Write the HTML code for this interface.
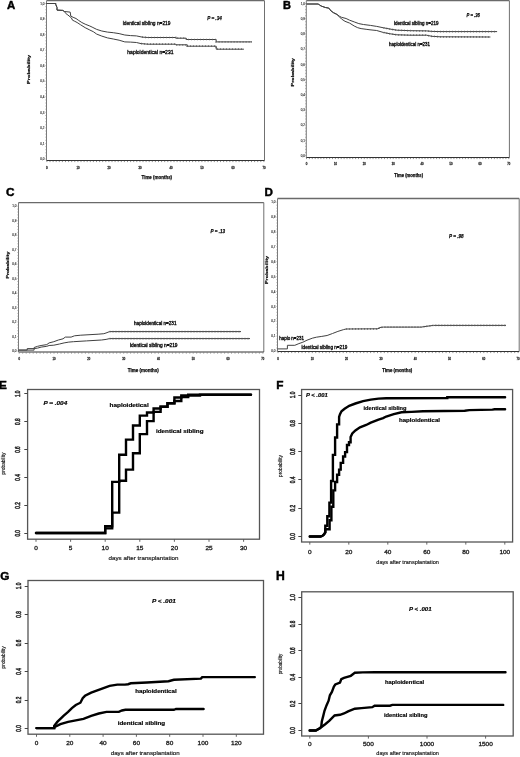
<!DOCTYPE html>
<html><head><meta charset="utf-8"><style>
html,body{margin:0;padding:0;background:#fff;width:520px;height:757px;overflow:hidden}
svg text{font-family:"Liberation Sans", sans-serif}
</style></head><body>
<svg width="520" height="757" viewBox="0 0 520 757" style="display:block;will-change:transform;filter:blur(0.3px)">
<rect width="520" height="757" fill="#fff"/>
<g font-family='"Liberation Sans", sans-serif'>
<text x="6.90" y="9.00" font-size="11.4" text-anchor="start" stroke="#000" stroke-width="0.45" font-weight="bold" fill="#000">A</text>
<text x="282.90" y="9.00" font-size="11.0" text-anchor="start" stroke="#000" stroke-width="0.45" font-weight="bold" fill="#000">B</text>
<text x="5.90" y="195.60" font-size="11.8" text-anchor="start" stroke="#000" stroke-width="0.45" font-weight="bold" fill="#000">C</text>
<text x="264.40" y="195.60" font-size="11.6" text-anchor="start" stroke="#000" stroke-width="0.45" font-weight="bold" fill="#000">D</text>
<text x="-0.90" y="388.70" font-size="11.8" text-anchor="start" stroke="#000" stroke-width="0.45" font-weight="bold" fill="#000">E</text>
<text x="276.20" y="388.70" font-size="11.8" text-anchor="start" stroke="#000" stroke-width="0.45" font-weight="bold" fill="#000">F</text>
<text x="0.20" y="579.60" font-size="11.8" text-anchor="start" stroke="#000" stroke-width="0.45" font-weight="bold" fill="#000">G</text>
<text x="276.00" y="579.90" font-size="12.2" text-anchor="start" stroke="#000" stroke-width="0.45" font-weight="bold" fill="#000">H</text>
<line x1="46.50" y1="0.70" x2="264.50" y2="0.70" stroke="#6a6a6a" stroke-width="1.3"/>
<line x1="264.50" y1="0.70" x2="264.50" y2="160.50" stroke="#707070" stroke-width="1.0"/>
<line x1="46.50" y1="0.70" x2="46.50" y2="160.50" stroke="#7a7a7a" stroke-width="1.0"/>
<line x1="46.50" y1="160.50" x2="264.50" y2="160.50" stroke="#333" stroke-width="1.0"/>
<path d="M46.9 161.0V162.1M50.0 161.0V162.1M53.1 161.0V162.1M56.2 161.0V162.1M59.3 161.0V162.1M62.4 161.0V162.1M65.5 161.0V162.1M68.6 161.0V162.1M71.7 161.0V162.1M74.8 161.0V162.1M77.9 161.0V162.1M81.0 161.0V162.1M84.1 161.0V162.1M87.2 161.0V162.1M90.3 161.0V162.1M93.4 161.0V162.1M96.5 161.0V162.1M99.6 161.0V162.1M102.7 161.0V162.1M105.8 161.0V162.1M108.9 161.0V162.1M112.0 161.0V162.1M115.1 161.0V162.1M118.2 161.0V162.1M121.3 161.0V162.1M124.4 161.0V162.1M127.5 161.0V162.1M130.6 161.0V162.1M133.7 161.0V162.1M136.8 161.0V162.1M139.9 161.0V162.1M143.0 161.0V162.1M146.1 161.0V162.1M149.2 161.0V162.1M152.3 161.0V162.1M155.4 161.0V162.1M158.5 161.0V162.1M161.6 161.0V162.1M164.7 161.0V162.1M167.8 161.0V162.1M170.9 161.0V162.1M174.0 161.0V162.1M177.1 161.0V162.1M180.2 161.0V162.1M183.3 161.0V162.1M186.4 161.0V162.1M189.5 161.0V162.1M192.6 161.0V162.1M195.7 161.0V162.1M198.8 161.0V162.1M201.9 161.0V162.1M205.0 161.0V162.1M208.1 161.0V162.1M211.2 161.0V162.1M214.3 161.0V162.1M217.4 161.0V162.1M220.5 161.0V162.1M223.6 161.0V162.1M226.7 161.0V162.1M229.8 161.0V162.1M232.9 161.0V162.1M236.0 161.0V162.1M239.1 161.0V162.1M242.2 161.0V162.1M245.3 161.0V162.1M248.4 161.0V162.1M251.5 161.0V162.1M254.6 161.0V162.1M257.7 161.0V162.1M260.8 161.0V162.1M263.9 161.0V162.1" stroke="#666" stroke-width="0.7" fill="none"/>
<path d="M45.3 159.0H46.5M45.3 155.9H46.5M45.3 152.8H46.5M45.3 149.7H46.5M45.3 146.6H46.5M45.3 143.4H46.5M45.3 140.3H46.5M45.3 137.2H46.5M45.3 134.1H46.5M45.3 131.0H46.5M45.3 127.9H46.5M45.3 124.8H46.5M45.3 121.7H46.5M45.3 118.6H46.5M45.3 115.5H46.5M45.3 112.3H46.5M45.3 109.2H46.5M45.3 106.1H46.5M45.3 103.0H46.5M45.3 99.9H46.5M45.3 96.8H46.5M45.3 93.7H46.5M45.3 90.6H46.5M45.3 87.5H46.5M45.3 84.4H46.5M45.3 81.2H46.5M45.3 78.1H46.5M45.3 75.0H46.5M45.3 71.9H46.5M45.3 68.8H46.5M45.3 65.7H46.5M45.3 62.6H46.5M45.3 59.5H46.5M45.3 56.4H46.5M45.3 53.3H46.5M45.3 50.2H46.5M45.3 47.0H46.5M45.3 43.9H46.5M45.3 40.8H46.5M45.3 37.7H46.5M45.3 34.6H46.5M45.3 31.5H46.5M45.3 28.4H46.5M45.3 25.3H46.5M45.3 22.2H46.5M45.3 19.1H46.5M45.3 15.9H46.5M45.3 12.8H46.5M45.3 9.7H46.5M45.3 6.6H46.5M45.3 3.5H46.5" stroke="#888" stroke-width="0.6" fill="none"/>
<text x="44.50" y="160.20" font-size="3.4" text-anchor="end" stroke="#333" stroke-width="0.15" textLength="4.20" lengthAdjust="spacingAndGlyphs" fill="#333">0,0</text>
<text x="44.50" y="144.65" font-size="3.4" text-anchor="end" stroke="#333" stroke-width="0.15" textLength="4.20" lengthAdjust="spacingAndGlyphs" fill="#333">0,1</text>
<text x="44.50" y="129.10" font-size="3.4" text-anchor="end" stroke="#333" stroke-width="0.15" textLength="4.20" lengthAdjust="spacingAndGlyphs" fill="#333">0,2</text>
<text x="44.50" y="113.55" font-size="3.4" text-anchor="end" stroke="#333" stroke-width="0.15" textLength="4.20" lengthAdjust="spacingAndGlyphs" fill="#333">0,3</text>
<text x="44.50" y="98.00" font-size="3.4" text-anchor="end" stroke="#333" stroke-width="0.15" textLength="4.20" lengthAdjust="spacingAndGlyphs" fill="#333">0,4</text>
<text x="44.50" y="82.45" font-size="3.4" text-anchor="end" stroke="#333" stroke-width="0.15" textLength="4.20" lengthAdjust="spacingAndGlyphs" fill="#333">0,5</text>
<text x="44.50" y="66.90" font-size="3.4" text-anchor="end" stroke="#333" stroke-width="0.15" textLength="4.20" lengthAdjust="spacingAndGlyphs" fill="#333">0,6</text>
<text x="44.50" y="51.35" font-size="3.4" text-anchor="end" stroke="#333" stroke-width="0.15" textLength="4.20" lengthAdjust="spacingAndGlyphs" fill="#333">0,7</text>
<text x="44.50" y="35.80" font-size="3.4" text-anchor="end" stroke="#333" stroke-width="0.15" textLength="4.20" lengthAdjust="spacingAndGlyphs" fill="#333">0,8</text>
<text x="44.50" y="20.25" font-size="3.4" text-anchor="end" stroke="#333" stroke-width="0.15" textLength="4.20" lengthAdjust="spacingAndGlyphs" fill="#333">0,9</text>
<text x="44.50" y="4.70" font-size="3.4" text-anchor="end" stroke="#333" stroke-width="0.15" textLength="4.20" lengthAdjust="spacingAndGlyphs" fill="#333">1,0</text>
<text x="46.90" y="168.60" font-size="3.6" text-anchor="middle" stroke="#333" stroke-width="0.35" textLength="1.60" lengthAdjust="spacingAndGlyphs" fill="#333">0</text>
<text x="77.90" y="168.60" font-size="3.6" text-anchor="middle" stroke="#333" stroke-width="0.35" textLength="3.00" lengthAdjust="spacingAndGlyphs" fill="#333">10</text>
<text x="108.90" y="168.60" font-size="3.6" text-anchor="middle" stroke="#333" stroke-width="0.35" textLength="3.00" lengthAdjust="spacingAndGlyphs" fill="#333">20</text>
<text x="139.90" y="168.60" font-size="3.6" text-anchor="middle" stroke="#333" stroke-width="0.35" textLength="3.00" lengthAdjust="spacingAndGlyphs" fill="#333">30</text>
<text x="170.90" y="168.60" font-size="3.6" text-anchor="middle" stroke="#333" stroke-width="0.35" textLength="3.00" lengthAdjust="spacingAndGlyphs" fill="#333">40</text>
<text x="201.90" y="168.60" font-size="3.6" text-anchor="middle" stroke="#333" stroke-width="0.35" textLength="3.00" lengthAdjust="spacingAndGlyphs" fill="#333">50</text>
<text x="232.90" y="168.60" font-size="3.6" text-anchor="middle" stroke="#333" stroke-width="0.35" textLength="3.00" lengthAdjust="spacingAndGlyphs" fill="#333">60</text>
<text x="263.90" y="168.60" font-size="3.6" text-anchor="middle" stroke="#333" stroke-width="0.35" textLength="3.00" lengthAdjust="spacingAndGlyphs" fill="#333">70</text>
<polyline points="46.5,3.5 55.8,3.5 55.8,4.6 57.0,7.5 57.0,10.1 62.7,10.4 64.5,11.5 70.2,12.1 70.8,16.1 73.1,17.3 76.0,18.5 78.3,20.2 81.8,22.5 85.2,24.2 89.8,26.0 92.1,27.1 96.7,29.4 101.8,31.0 107.5,32.1 113.3,32.7 119.1,33.6 124.8,35.0 130.6,35.6 136.4,35.9 142.1,37.1 147.9,37.5 175.8,37.5 175.8,38.2 186.2,38.2 186.2,39.5 216.2,39.5 216.2,41.9 252.0,41.9" fill="none" stroke="#404040" stroke-width="1.0" stroke-linejoin="miter"/>
<polyline points="142.1,37.1 147.9,37.5 175.8,37.5 175.8,38.2 186.2,38.2 186.2,39.5 216.2,39.5 216.2,41.9 252.0,41.9" fill="none" stroke="#5a5a5a" stroke-width="1.7" stroke-dasharray="0.8 2.2"/>
<polyline points="46.5,3.5 55.8,3.5 55.8,4.6 57.0,7.5 57.0,10.1 62.7,10.4 64.5,11.5 65.6,13.3 67.9,15.0 71.4,17.9 72.5,20.2 74.8,21.3 77.1,22.5 80.6,24.8 85.2,27.7 89.8,30.0 93.3,31.7 96.7,34.1 101.8,36.1 107.5,37.9 113.3,39.0 119.1,40.2 124.8,41.9 130.6,42.1 136.4,42.5 141.0,43.6 147.9,44.2 175.8,44.2 175.8,44.8 187.3,44.8 187.3,46.2 216.2,46.2 216.2,49.2 243.9,49.2" fill="none" stroke="#404040" stroke-width="1.0" stroke-linejoin="miter"/>
<polyline points="141.0,43.6 147.9,44.2 175.8,44.2 175.8,44.8 187.3,44.8 187.3,46.2 216.2,46.2 216.2,49.2 243.9,49.2" fill="none" stroke="#5a5a5a" stroke-width="1.7" stroke-dasharray="0.8 2.2"/>
<text x="122.70" y="25.40" font-size="5.6" text-anchor="start" stroke="#111" stroke-width="0.35" textLength="47.80" lengthAdjust="spacingAndGlyphs">identical sibling n=219</text>
<text x="127.30" y="53.80" font-size="5.6" text-anchor="start" stroke="#111" stroke-width="0.35" textLength="46.20" lengthAdjust="spacingAndGlyphs">haploidentical n=231</text>
<text x="207.20" y="20.10" font-size="6.0" text-anchor="start" stroke="#111" stroke-width="0.25" font-weight="bold" font-style="italic" textLength="14.60" lengthAdjust="spacingAndGlyphs">P = .34</text>
<text x="30.00" y="69.40" font-size="4.3" text-anchor="middle" stroke="#111" stroke-width="0.2" font-weight="bold" textLength="29.00" lengthAdjust="spacingAndGlyphs" transform="rotate(-90 30.00 69.40)">Probability</text>
<text x="141.50" y="178.70" font-size="5.2" text-anchor="start" stroke="#111" stroke-width="0.25" font-weight="bold" textLength="30.60" lengthAdjust="spacingAndGlyphs">Time (months)</text>
<line x1="306.30" y1="0.70" x2="509.40" y2="0.70" stroke="#6a6a6a" stroke-width="1.3"/>
<line x1="509.40" y1="0.70" x2="509.40" y2="157.50" stroke="#707070" stroke-width="1.0"/>
<line x1="306.30" y1="0.70" x2="306.30" y2="157.50" stroke="#7a7a7a" stroke-width="1.0"/>
<line x1="306.30" y1="157.50" x2="509.40" y2="157.50" stroke="#333" stroke-width="1.0"/>
<path d="M306.5 158.0V159.1M309.4 158.0V159.1M312.3 158.0V159.1M315.2 158.0V159.1M318.1 158.0V159.1M320.9 158.0V159.1M323.8 158.0V159.1M326.7 158.0V159.1M329.6 158.0V159.1M332.5 158.0V159.1M335.4 158.0V159.1M338.3 158.0V159.1M341.2 158.0V159.1M344.1 158.0V159.1M347.0 158.0V159.1M349.9 158.0V159.1M352.7 158.0V159.1M355.6 158.0V159.1M358.5 158.0V159.1M361.4 158.0V159.1M364.3 158.0V159.1M367.2 158.0V159.1M370.1 158.0V159.1M373.0 158.0V159.1M375.9 158.0V159.1M378.8 158.0V159.1M381.6 158.0V159.1M384.5 158.0V159.1M387.4 158.0V159.1M390.3 158.0V159.1M393.2 158.0V159.1M396.1 158.0V159.1M399.0 158.0V159.1M401.9 158.0V159.1M404.8 158.0V159.1M407.6 158.0V159.1M410.5 158.0V159.1M413.4 158.0V159.1M416.3 158.0V159.1M419.2 158.0V159.1M422.1 158.0V159.1M425.0 158.0V159.1M427.9 158.0V159.1M430.8 158.0V159.1M433.7 158.0V159.1M436.6 158.0V159.1M439.4 158.0V159.1M442.3 158.0V159.1M445.2 158.0V159.1M448.1 158.0V159.1M451.0 158.0V159.1M453.9 158.0V159.1M456.8 158.0V159.1M459.7 158.0V159.1M462.6 158.0V159.1M465.4 158.0V159.1M468.3 158.0V159.1M471.2 158.0V159.1M474.1 158.0V159.1M477.0 158.0V159.1M479.9 158.0V159.1M482.8 158.0V159.1M485.7 158.0V159.1M488.6 158.0V159.1M491.5 158.0V159.1M494.4 158.0V159.1M497.2 158.0V159.1M500.1 158.0V159.1M503.0 158.0V159.1M505.9 158.0V159.1M508.8 158.0V159.1" stroke="#666" stroke-width="0.7" fill="none"/>
<path d="M305.1 155.5H306.3M305.1 152.5H306.3M305.1 149.4H306.3M305.1 146.4H306.3M305.1 143.3H306.3M305.1 140.3H306.3M305.1 137.3H306.3M305.1 134.2H306.3M305.1 131.2H306.3M305.1 128.1H306.3M305.1 125.1H306.3M305.1 122.1H306.3M305.1 119.0H306.3M305.1 116.0H306.3M305.1 112.9H306.3M305.1 109.9H306.3M305.1 106.9H306.3M305.1 103.8H306.3M305.1 100.8H306.3M305.1 97.7H306.3M305.1 94.7H306.3M305.1 91.7H306.3M305.1 88.6H306.3M305.1 85.6H306.3M305.1 82.5H306.3M305.1 79.5H306.3M305.1 76.5H306.3M305.1 73.4H306.3M305.1 70.4H306.3M305.1 67.3H306.3M305.1 64.3H306.3M305.1 61.3H306.3M305.1 58.2H306.3M305.1 55.2H306.3M305.1 52.1H306.3M305.1 49.1H306.3M305.1 46.1H306.3M305.1 43.0H306.3M305.1 40.0H306.3M305.1 36.9H306.3M305.1 33.9H306.3M305.1 30.9H306.3M305.1 27.8H306.3M305.1 24.8H306.3M305.1 21.7H306.3M305.1 18.7H306.3M305.1 15.7H306.3M305.1 12.6H306.3M305.1 9.6H306.3M305.1 6.5H306.3M305.1 3.5H306.3" stroke="#888" stroke-width="0.6" fill="none"/>
<text x="305.00" y="156.70" font-size="3.4" text-anchor="end" stroke="#333" stroke-width="0.15" textLength="4.20" lengthAdjust="spacingAndGlyphs" fill="#333">0,0</text>
<text x="305.00" y="141.50" font-size="3.4" text-anchor="end" stroke="#333" stroke-width="0.15" textLength="4.20" lengthAdjust="spacingAndGlyphs" fill="#333">0,1</text>
<text x="305.00" y="126.30" font-size="3.4" text-anchor="end" stroke="#333" stroke-width="0.15" textLength="4.20" lengthAdjust="spacingAndGlyphs" fill="#333">0,2</text>
<text x="305.00" y="111.10" font-size="3.4" text-anchor="end" stroke="#333" stroke-width="0.15" textLength="4.20" lengthAdjust="spacingAndGlyphs" fill="#333">0,3</text>
<text x="305.00" y="95.90" font-size="3.4" text-anchor="end" stroke="#333" stroke-width="0.15" textLength="4.20" lengthAdjust="spacingAndGlyphs" fill="#333">0,4</text>
<text x="305.00" y="80.70" font-size="3.4" text-anchor="end" stroke="#333" stroke-width="0.15" textLength="4.20" lengthAdjust="spacingAndGlyphs" fill="#333">0,5</text>
<text x="305.00" y="65.50" font-size="3.4" text-anchor="end" stroke="#333" stroke-width="0.15" textLength="4.20" lengthAdjust="spacingAndGlyphs" fill="#333">0,6</text>
<text x="305.00" y="50.30" font-size="3.4" text-anchor="end" stroke="#333" stroke-width="0.15" textLength="4.20" lengthAdjust="spacingAndGlyphs" fill="#333">0,7</text>
<text x="305.00" y="35.10" font-size="3.4" text-anchor="end" stroke="#333" stroke-width="0.15" textLength="4.20" lengthAdjust="spacingAndGlyphs" fill="#333">0,8</text>
<text x="305.00" y="19.90" font-size="3.4" text-anchor="end" stroke="#333" stroke-width="0.15" textLength="4.20" lengthAdjust="spacingAndGlyphs" fill="#333">0,9</text>
<text x="305.00" y="4.70" font-size="3.4" text-anchor="end" stroke="#333" stroke-width="0.15" textLength="4.20" lengthAdjust="spacingAndGlyphs" fill="#333">1,0</text>
<text x="306.50" y="165.20" font-size="3.6" text-anchor="middle" stroke="#333" stroke-width="0.35" textLength="1.60" lengthAdjust="spacingAndGlyphs" fill="#333">0</text>
<text x="335.40" y="165.20" font-size="3.6" text-anchor="middle" stroke="#333" stroke-width="0.35" textLength="3.00" lengthAdjust="spacingAndGlyphs" fill="#333">10</text>
<text x="364.30" y="165.20" font-size="3.6" text-anchor="middle" stroke="#333" stroke-width="0.35" textLength="3.00" lengthAdjust="spacingAndGlyphs" fill="#333">20</text>
<text x="393.20" y="165.20" font-size="3.6" text-anchor="middle" stroke="#333" stroke-width="0.35" textLength="3.00" lengthAdjust="spacingAndGlyphs" fill="#333">30</text>
<text x="422.10" y="165.20" font-size="3.6" text-anchor="middle" stroke="#333" stroke-width="0.35" textLength="3.00" lengthAdjust="spacingAndGlyphs" fill="#333">40</text>
<text x="451.00" y="165.20" font-size="3.6" text-anchor="middle" stroke="#333" stroke-width="0.35" textLength="3.00" lengthAdjust="spacingAndGlyphs" fill="#333">50</text>
<text x="479.90" y="165.20" font-size="3.6" text-anchor="middle" stroke="#333" stroke-width="0.35" textLength="3.00" lengthAdjust="spacingAndGlyphs" fill="#333">60</text>
<text x="508.80" y="165.20" font-size="3.6" text-anchor="middle" stroke="#333" stroke-width="0.35" textLength="3.00" lengthAdjust="spacingAndGlyphs" fill="#333">70</text>
<polyline points="306.5,4.0 318.5,4.0 319.6,5.2 321.9,6.3 325.4,7.5 328.8,8.1 331.1,11.0 333.5,12.7 336.9,14.4 339.2,16.1 341.5,17.3 346.1,18.5 349.6,20.2 354.2,21.9 358.8,23.6 363.4,24.5 370.4,25.4 376.7,26.4 383.5,27.8 390.2,29.1 396.9,30.2 410.4,30.7 426.5,30.9 431.9,31.4 440.0,31.6 497.1,31.6" fill="none" stroke="#404040" stroke-width="1.0" stroke-linejoin="miter"/>
<polyline points="383.5,27.8 390.2,29.1 396.9,30.2 410.4,30.7 426.5,30.9 431.9,31.4 440.0,31.6 497.1,31.6" fill="none" stroke="#5a5a5a" stroke-width="1.7" stroke-dasharray="0.8 2.2"/>
<polyline points="306.5,4.0 318.5,4.0 319.6,5.2 321.9,6.3 325.4,7.5 328.8,8.1 331.1,11.0 333.5,12.7 336.9,14.4 339.2,16.6 341.5,19.0 345.0,21.3 349.6,23.1 354.2,26.0 357.7,27.7 361.1,28.6 366.9,29.4 370.0,29.8 376.7,30.5 383.5,32.5 390.2,33.8 396.9,34.8 410.4,35.2 426.5,35.2 431.9,36.3 440.0,36.8 490.4,37.0" fill="none" stroke="#404040" stroke-width="1.0" stroke-linejoin="miter"/>
<polyline points="383.5,32.5 390.2,33.8 396.9,34.8 410.4,35.2 426.5,35.2 431.9,36.3 440.0,36.8 490.4,37.0" fill="none" stroke="#5a5a5a" stroke-width="1.7" stroke-dasharray="0.8 2.2"/>
<text x="394.00" y="25.00" font-size="5.0" text-anchor="start" stroke="#111" stroke-width="0.35" textLength="44.50" lengthAdjust="spacingAndGlyphs">identical sibling n=219</text>
<text x="389.00" y="46.40" font-size="5.0" text-anchor="start" stroke="#111" stroke-width="0.35" textLength="41.00" lengthAdjust="spacingAndGlyphs">haploidentical n=231</text>
<text x="466.60" y="17.30" font-size="5.6" text-anchor="start" stroke="#111" stroke-width="0.25" font-weight="bold" font-style="italic" textLength="13.30" lengthAdjust="spacingAndGlyphs">P = .36</text>
<text x="294.00" y="72.30" font-size="4.0" text-anchor="middle" stroke="#111" stroke-width="0.2" font-weight="bold" textLength="28.40" lengthAdjust="spacingAndGlyphs" transform="rotate(-90 294.00 72.30)">Probability</text>
<text x="394.30" y="176.80" font-size="4.8" text-anchor="start" stroke="#111" stroke-width="0.25" font-weight="bold" textLength="28.80" lengthAdjust="spacingAndGlyphs">Time (months)</text>
<line x1="18.50" y1="202.60" x2="263.80" y2="202.60" stroke="#6a6a6a" stroke-width="1.3"/>
<line x1="263.80" y1="202.60" x2="263.80" y2="352.00" stroke="#707070" stroke-width="1.0"/>
<line x1="18.50" y1="202.60" x2="18.50" y2="352.00" stroke="#7a7a7a" stroke-width="1.0"/>
<line x1="18.50" y1="352.00" x2="263.80" y2="352.00" stroke="#333" stroke-width="1.0"/>
<path d="M19.2 352.5V353.6M22.7 352.5V353.6M26.2 352.5V353.6M29.7 352.5V353.6M33.2 352.5V353.6M36.6 352.5V353.6M40.1 352.5V353.6M43.6 352.5V353.6M47.1 352.5V353.6M50.6 352.5V353.6M54.0 352.5V353.6M57.5 352.5V353.6M61.0 352.5V353.6M64.5 352.5V353.6M68.0 352.5V353.6M71.5 352.5V353.6M74.9 352.5V353.6M78.4 352.5V353.6M81.9 352.5V353.6M85.4 352.5V353.6M88.8 352.5V353.6M92.3 352.5V353.6M95.8 352.5V353.6M99.3 352.5V353.6M102.8 352.5V353.6M106.2 352.5V353.6M109.7 352.5V353.6M113.2 352.5V353.6M116.7 352.5V353.6M120.2 352.5V353.6M123.7 352.5V353.6M127.1 352.5V353.6M130.6 352.5V353.6M134.1 352.5V353.6M137.6 352.5V353.6M141.1 352.5V353.6M144.5 352.5V353.6M148.0 352.5V353.6M151.5 352.5V353.6M155.0 352.5V353.6M158.4 352.5V353.6M161.9 352.5V353.6M165.4 352.5V353.6M168.9 352.5V353.6M172.4 352.5V353.6M175.8 352.5V353.6M179.3 352.5V353.6M182.8 352.5V353.6M186.3 352.5V353.6M189.8 352.5V353.6M193.2 352.5V353.6M196.7 352.5V353.6M200.2 352.5V353.6M203.7 352.5V353.6M207.2 352.5V353.6M210.6 352.5V353.6M214.1 352.5V353.6M217.6 352.5V353.6M221.1 352.5V353.6M224.6 352.5V353.6M228.1 352.5V353.6M231.5 352.5V353.6M235.0 352.5V353.6M238.5 352.5V353.6M242.0 352.5V353.6M245.4 352.5V353.6M248.9 352.5V353.6M252.4 352.5V353.6M255.9 352.5V353.6M259.4 352.5V353.6M262.9 352.5V353.6" stroke="#666" stroke-width="0.7" fill="none"/>
<path d="M17.3 351.0H18.5M17.3 348.1H18.5M17.3 345.2H18.5M17.3 342.3H18.5M17.3 339.4H18.5M17.3 336.5H18.5M17.3 333.6H18.5M17.3 330.7H18.5M17.3 327.8H18.5M17.3 324.9H18.5M17.3 322.0H18.5M17.3 319.1H18.5M17.3 316.2H18.5M17.3 313.4H18.5M17.3 310.5H18.5M17.3 307.6H18.5M17.3 304.7H18.5M17.3 301.8H18.5M17.3 298.9H18.5M17.3 296.0H18.5M17.3 293.1H18.5M17.3 290.2H18.5M17.3 287.3H18.5M17.3 284.4H18.5M17.3 281.5H18.5M17.3 278.6H18.5M17.3 275.7H18.5M17.3 272.8H18.5M17.3 269.9H18.5M17.3 267.0H18.5M17.3 264.1H18.5M17.3 261.2H18.5M17.3 258.3H18.5M17.3 255.4H18.5M17.3 252.5H18.5M17.3 249.6H18.5M17.3 246.7H18.5M17.3 243.8H18.5M17.3 241.0H18.5M17.3 238.1H18.5M17.3 235.2H18.5M17.3 232.3H18.5M17.3 229.4H18.5M17.3 226.5H18.5M17.3 223.6H18.5M17.3 220.7H18.5M17.3 217.8H18.5M17.3 214.9H18.5M17.3 212.0H18.5M17.3 209.1H18.5M17.3 206.2H18.5" stroke="#888" stroke-width="0.6" fill="none"/>
<text x="16.50" y="352.20" font-size="3.4" text-anchor="end" stroke="#333" stroke-width="0.15" textLength="4.20" lengthAdjust="spacingAndGlyphs" fill="#333">0,0</text>
<text x="16.50" y="337.72" font-size="3.4" text-anchor="end" stroke="#333" stroke-width="0.15" textLength="4.20" lengthAdjust="spacingAndGlyphs" fill="#333">0,1</text>
<text x="16.50" y="323.24" font-size="3.4" text-anchor="end" stroke="#333" stroke-width="0.15" textLength="4.20" lengthAdjust="spacingAndGlyphs" fill="#333">0,2</text>
<text x="16.50" y="308.76" font-size="3.4" text-anchor="end" stroke="#333" stroke-width="0.15" textLength="4.20" lengthAdjust="spacingAndGlyphs" fill="#333">0,3</text>
<text x="16.50" y="294.28" font-size="3.4" text-anchor="end" stroke="#333" stroke-width="0.15" textLength="4.20" lengthAdjust="spacingAndGlyphs" fill="#333">0,4</text>
<text x="16.50" y="279.80" font-size="3.4" text-anchor="end" stroke="#333" stroke-width="0.15" textLength="4.20" lengthAdjust="spacingAndGlyphs" fill="#333">0,5</text>
<text x="16.50" y="265.32" font-size="3.4" text-anchor="end" stroke="#333" stroke-width="0.15" textLength="4.20" lengthAdjust="spacingAndGlyphs" fill="#333">0,6</text>
<text x="16.50" y="250.84" font-size="3.4" text-anchor="end" stroke="#333" stroke-width="0.15" textLength="4.20" lengthAdjust="spacingAndGlyphs" fill="#333">0,7</text>
<text x="16.50" y="236.36" font-size="3.4" text-anchor="end" stroke="#333" stroke-width="0.15" textLength="4.20" lengthAdjust="spacingAndGlyphs" fill="#333">0,8</text>
<text x="16.50" y="221.88" font-size="3.4" text-anchor="end" stroke="#333" stroke-width="0.15" textLength="4.20" lengthAdjust="spacingAndGlyphs" fill="#333">0,9</text>
<text x="16.50" y="207.40" font-size="3.4" text-anchor="end" stroke="#333" stroke-width="0.15" textLength="4.20" lengthAdjust="spacingAndGlyphs" fill="#333">1,0</text>
<text x="19.25" y="360.30" font-size="3.6" text-anchor="middle" stroke="#333" stroke-width="0.35" textLength="1.60" lengthAdjust="spacingAndGlyphs" fill="#333">0</text>
<text x="54.05" y="360.30" font-size="3.6" text-anchor="middle" stroke="#333" stroke-width="0.35" textLength="3.00" lengthAdjust="spacingAndGlyphs" fill="#333">10</text>
<text x="88.85" y="360.30" font-size="3.6" text-anchor="middle" stroke="#333" stroke-width="0.35" textLength="3.00" lengthAdjust="spacingAndGlyphs" fill="#333">20</text>
<text x="123.65" y="360.30" font-size="3.6" text-anchor="middle" stroke="#333" stroke-width="0.35" textLength="3.00" lengthAdjust="spacingAndGlyphs" fill="#333">30</text>
<text x="158.45" y="360.30" font-size="3.6" text-anchor="middle" stroke="#333" stroke-width="0.35" textLength="3.00" lengthAdjust="spacingAndGlyphs" fill="#333">40</text>
<text x="193.25" y="360.30" font-size="3.6" text-anchor="middle" stroke="#333" stroke-width="0.35" textLength="3.00" lengthAdjust="spacingAndGlyphs" fill="#333">50</text>
<text x="228.05" y="360.30" font-size="3.6" text-anchor="middle" stroke="#333" stroke-width="0.35" textLength="3.00" lengthAdjust="spacingAndGlyphs" fill="#333">60</text>
<text x="262.85" y="360.30" font-size="3.6" text-anchor="middle" stroke="#333" stroke-width="0.35" textLength="3.00" lengthAdjust="spacingAndGlyphs" fill="#333">70</text>
<polyline points="18.5,350.1 34.1,350.1 34.1,347.5 37.6,346.3 41.1,345.5 46.8,344.6 49.1,342.9 53.8,341.7 58.4,340.0 63.0,338.8 65.3,337.1 71.1,337.1 74.5,335.8 80.8,335.2 98.1,334.2 103.8,333.7 106.0,333.0 109.6,331.6 241.0,331.6" fill="none" stroke="#404040" stroke-width="1.0" stroke-linejoin="miter"/>
<polyline points="109.6,331.6 241.0,331.6" fill="none" stroke="#5a5a5a" stroke-width="1.7" stroke-dasharray="0.8 2.2"/>
<polyline points="18.5,350.1 27.2,350.1 27.2,348.6 34.1,348.6 37.6,348.1 41.1,347.1 46.8,346.3 49.1,345.5 53.8,345.2 59.5,344.0 64.1,342.9 68.8,342.1 73.4,341.7 86.5,340.9 101.5,340.0 106.1,339.4 109.6,338.6 250.0,338.6" fill="none" stroke="#404040" stroke-width="1.0" stroke-linejoin="miter"/>
<polyline points="109.6,338.6 250.0,338.6" fill="none" stroke="#5a5a5a" stroke-width="1.7" stroke-dasharray="0.8 2.2"/>
<text x="134.00" y="325.00" font-size="5.0" text-anchor="start" stroke="#111" stroke-width="0.35" textLength="42.50" lengthAdjust="spacingAndGlyphs">haploidentical n=231</text>
<text x="130.00" y="347.20" font-size="5.0" text-anchor="start" stroke="#111" stroke-width="0.35" textLength="47.50" lengthAdjust="spacingAndGlyphs">identical sibling n=219</text>
<text x="210.60" y="233.20" font-size="5.6" text-anchor="start" stroke="#111" stroke-width="0.25" font-weight="bold" font-style="italic" textLength="14.60" lengthAdjust="spacingAndGlyphs">P = .13</text>
<text x="9.10" y="265.10" font-size="4.2" text-anchor="middle" stroke="#111" stroke-width="0.2" font-weight="bold" textLength="27.00" lengthAdjust="spacingAndGlyphs" transform="rotate(-90 9.10 265.10)">Probability</text>
<text x="127.80" y="371.80" font-size="4.8" text-anchor="start" stroke="#111" stroke-width="0.25" font-weight="bold" textLength="31.00" lengthAdjust="spacingAndGlyphs">Time (months)</text>
<line x1="277.50" y1="198.50" x2="519.20" y2="198.50" stroke="#6a6a6a" stroke-width="1.3"/>
<line x1="519.20" y1="198.50" x2="519.20" y2="351.50" stroke="#707070" stroke-width="1.0"/>
<line x1="277.50" y1="198.50" x2="277.50" y2="351.50" stroke="#7a7a7a" stroke-width="1.0"/>
<line x1="277.50" y1="351.50" x2="519.20" y2="351.50" stroke="#333" stroke-width="1.0"/>
<path d="M278.0 352.0V353.1M281.4 352.0V353.1M284.9 352.0V353.1M288.3 352.0V353.1M291.7 352.0V353.1M295.1 352.0V353.1M298.6 352.0V353.1M302.0 352.0V353.1M305.4 352.0V353.1M308.9 352.0V353.1M312.3 352.0V353.1M315.7 352.0V353.1M319.2 352.0V353.1M322.6 352.0V353.1M326.0 352.0V353.1M329.4 352.0V353.1M332.9 352.0V353.1M336.3 352.0V353.1M339.7 352.0V353.1M343.2 352.0V353.1M346.6 352.0V353.1M350.0 352.0V353.1M353.5 352.0V353.1M356.9 352.0V353.1M360.3 352.0V353.1M363.8 352.0V353.1M367.2 352.0V353.1M370.6 352.0V353.1M374.0 352.0V353.1M377.5 352.0V353.1M380.9 352.0V353.1M384.3 352.0V353.1M387.8 352.0V353.1M391.2 352.0V353.1M394.6 352.0V353.1M398.1 352.0V353.1M401.5 352.0V353.1M404.9 352.0V353.1M408.3 352.0V353.1M411.8 352.0V353.1M415.2 352.0V353.1M418.6 352.0V353.1M422.1 352.0V353.1M425.5 352.0V353.1M428.9 352.0V353.1M432.3 352.0V353.1M435.8 352.0V353.1M439.2 352.0V353.1M442.6 352.0V353.1M446.1 352.0V353.1M449.5 352.0V353.1M452.9 352.0V353.1M456.4 352.0V353.1M459.8 352.0V353.1M463.2 352.0V353.1M466.6 352.0V353.1M470.1 352.0V353.1M473.5 352.0V353.1M476.9 352.0V353.1M480.4 352.0V353.1M483.8 352.0V353.1M487.2 352.0V353.1M490.7 352.0V353.1M494.1 352.0V353.1M497.5 352.0V353.1M500.9 352.0V353.1M504.4 352.0V353.1M507.8 352.0V353.1M511.2 352.0V353.1M514.7 352.0V353.1M518.1 352.0V353.1" stroke="#666" stroke-width="0.7" fill="none"/>
<path d="M276.3 351.0H277.5M276.3 348.0H277.5M276.3 345.0H277.5M276.3 342.1H277.5M276.3 339.1H277.5M276.3 336.1H277.5M276.3 333.1H277.5M276.3 330.2H277.5M276.3 327.2H277.5M276.3 324.2H277.5M276.3 321.2H277.5M276.3 318.3H277.5M276.3 315.3H277.5M276.3 312.3H277.5M276.3 309.3H277.5M276.3 306.4H277.5M276.3 303.4H277.5M276.3 300.4H277.5M276.3 297.4H277.5M276.3 294.5H277.5M276.3 291.5H277.5M276.3 288.5H277.5M276.3 285.5H277.5M276.3 282.6H277.5M276.3 279.6H277.5M276.3 276.6H277.5M276.3 273.6H277.5M276.3 270.6H277.5M276.3 267.7H277.5M276.3 264.7H277.5M276.3 261.7H277.5M276.3 258.7H277.5M276.3 255.8H277.5M276.3 252.8H277.5M276.3 249.8H277.5M276.3 246.8H277.5M276.3 243.9H277.5M276.3 240.9H277.5M276.3 237.9H277.5M276.3 234.9H277.5M276.3 232.0H277.5M276.3 229.0H277.5M276.3 226.0H277.5M276.3 223.0H277.5M276.3 220.1H277.5M276.3 217.1H277.5M276.3 214.1H277.5M276.3 211.1H277.5M276.3 208.2H277.5M276.3 205.2H277.5M276.3 202.2H277.5" stroke="#888" stroke-width="0.6" fill="none"/>
<text x="275.50" y="352.20" font-size="3.4" text-anchor="end" stroke="#333" stroke-width="0.15" textLength="4.20" lengthAdjust="spacingAndGlyphs" fill="#333">0,0</text>
<text x="275.50" y="337.32" font-size="3.4" text-anchor="end" stroke="#333" stroke-width="0.15" textLength="4.20" lengthAdjust="spacingAndGlyphs" fill="#333">0,1</text>
<text x="275.50" y="322.44" font-size="3.4" text-anchor="end" stroke="#333" stroke-width="0.15" textLength="4.20" lengthAdjust="spacingAndGlyphs" fill="#333">0,2</text>
<text x="275.50" y="307.56" font-size="3.4" text-anchor="end" stroke="#333" stroke-width="0.15" textLength="4.20" lengthAdjust="spacingAndGlyphs" fill="#333">0,3</text>
<text x="275.50" y="292.68" font-size="3.4" text-anchor="end" stroke="#333" stroke-width="0.15" textLength="4.20" lengthAdjust="spacingAndGlyphs" fill="#333">0,4</text>
<text x="275.50" y="277.80" font-size="3.4" text-anchor="end" stroke="#333" stroke-width="0.15" textLength="4.20" lengthAdjust="spacingAndGlyphs" fill="#333">0,5</text>
<text x="275.50" y="262.92" font-size="3.4" text-anchor="end" stroke="#333" stroke-width="0.15" textLength="4.20" lengthAdjust="spacingAndGlyphs" fill="#333">0,6</text>
<text x="275.50" y="248.04" font-size="3.4" text-anchor="end" stroke="#333" stroke-width="0.15" textLength="4.20" lengthAdjust="spacingAndGlyphs" fill="#333">0,7</text>
<text x="275.50" y="233.16" font-size="3.4" text-anchor="end" stroke="#333" stroke-width="0.15" textLength="4.20" lengthAdjust="spacingAndGlyphs" fill="#333">0,8</text>
<text x="275.50" y="218.28" font-size="3.4" text-anchor="end" stroke="#333" stroke-width="0.15" textLength="4.20" lengthAdjust="spacingAndGlyphs" fill="#333">0,9</text>
<text x="275.50" y="203.40" font-size="3.4" text-anchor="end" stroke="#333" stroke-width="0.15" textLength="4.20" lengthAdjust="spacingAndGlyphs" fill="#333">1,0</text>
<text x="278.00" y="359.80" font-size="3.6" text-anchor="middle" stroke="#333" stroke-width="0.35" textLength="1.60" lengthAdjust="spacingAndGlyphs" fill="#333">0</text>
<text x="312.30" y="359.80" font-size="3.6" text-anchor="middle" stroke="#333" stroke-width="0.35" textLength="3.00" lengthAdjust="spacingAndGlyphs" fill="#333">10</text>
<text x="346.60" y="359.80" font-size="3.6" text-anchor="middle" stroke="#333" stroke-width="0.35" textLength="3.00" lengthAdjust="spacingAndGlyphs" fill="#333">20</text>
<text x="380.90" y="359.80" font-size="3.6" text-anchor="middle" stroke="#333" stroke-width="0.35" textLength="3.00" lengthAdjust="spacingAndGlyphs" fill="#333">30</text>
<text x="415.20" y="359.80" font-size="3.6" text-anchor="middle" stroke="#333" stroke-width="0.35" textLength="3.00" lengthAdjust="spacingAndGlyphs" fill="#333">40</text>
<text x="449.50" y="359.80" font-size="3.6" text-anchor="middle" stroke="#333" stroke-width="0.35" textLength="3.00" lengthAdjust="spacingAndGlyphs" fill="#333">50</text>
<text x="483.80" y="359.80" font-size="3.6" text-anchor="middle" stroke="#333" stroke-width="0.35" textLength="3.00" lengthAdjust="spacingAndGlyphs" fill="#333">60</text>
<text x="518.10" y="359.80" font-size="3.6" text-anchor="middle" stroke="#333" stroke-width="0.35" textLength="3.00" lengthAdjust="spacingAndGlyphs" fill="#333">70</text>
<polyline points="277.5,348.9 287.4,348.9 287.4,345.3 294.8,345.3 298.9,343.6 302.9,342.2 307.0,340.2 312.3,338.2 316.4,337.2 321.8,336.4 327.1,335.5 332.5,333.5 337.9,331.4 343.3,329.7 346.0,329.0 378.0,328.8 380.0,327.5 383.3,327.1 421.3,327.1 425.0,326.5 433.4,325.4 506.0,325.4" fill="none" stroke="#404040" stroke-width="1.0" stroke-linejoin="miter"/>
<polyline points="346.0,329.0 378.0,328.8 380.0,327.5 383.3,327.1 421.3,327.1 425.0,326.5 433.4,325.4 506.0,325.4" fill="none" stroke="#5a5a5a" stroke-width="1.7" stroke-dasharray="0.8 2.2"/>
<text x="279.20" y="339.80" font-size="5.0" text-anchor="start" stroke="#111" stroke-width="0.35" textLength="24.70" lengthAdjust="spacingAndGlyphs">haplo n=231</text>
<text x="301.60" y="348.60" font-size="5.0" text-anchor="start" stroke="#111" stroke-width="0.35" textLength="45.70" lengthAdjust="spacingAndGlyphs">identical sibling n=219</text>
<text x="449.10" y="237.70" font-size="5.6" text-anchor="start" stroke="#111" stroke-width="0.25" font-weight="bold" font-style="italic" textLength="14.50" lengthAdjust="spacingAndGlyphs">P = .98</text>
<text x="268.00" y="270.00" font-size="4.2" text-anchor="middle" stroke="#111" stroke-width="0.2" font-weight="bold" textLength="28.00" lengthAdjust="spacingAndGlyphs" transform="rotate(-90 268.00 270.00)">Probability</text>
<text x="382.30" y="372.20" font-size="4.8" text-anchor="start" stroke="#111" stroke-width="0.25" font-weight="bold" textLength="30.00" lengthAdjust="spacingAndGlyphs">Time (months)</text>
<rect x="27.60" y="389.50" width="231.90" height="149.70" fill="none" stroke="#555" stroke-width="1.3"/>
<line x1="24.30" y1="533.50" x2="27.60" y2="533.50" stroke="#444" stroke-width="1.0"/>
<text x="0" y="0" font-size="5.4" text-anchor="middle" stroke="#333" stroke-width="0.5" textLength="6.50" lengthAdjust="spacingAndGlyphs" fill="#333" transform="translate(20.10 533.30) rotate(-90) scale(1 1.38)">0.0</text>
<line x1="24.30" y1="505.50" x2="27.60" y2="505.50" stroke="#444" stroke-width="1.0"/>
<text x="0" y="0" font-size="5.4" text-anchor="middle" stroke="#333" stroke-width="0.5" textLength="6.50" lengthAdjust="spacingAndGlyphs" fill="#333" transform="translate(20.10 505.40) rotate(-90) scale(1 1.38)">0.2</text>
<line x1="24.30" y1="477.50" x2="27.60" y2="477.50" stroke="#444" stroke-width="1.0"/>
<text x="0" y="0" font-size="5.4" text-anchor="middle" stroke="#333" stroke-width="0.5" textLength="6.50" lengthAdjust="spacingAndGlyphs" fill="#333" transform="translate(20.10 477.50) rotate(-90) scale(1 1.38)">0.4</text>
<line x1="24.30" y1="449.50" x2="27.60" y2="449.50" stroke="#444" stroke-width="1.0"/>
<text x="0" y="0" font-size="5.4" text-anchor="middle" stroke="#333" stroke-width="0.5" textLength="6.50" lengthAdjust="spacingAndGlyphs" fill="#333" transform="translate(20.10 449.60) rotate(-90) scale(1 1.38)">0.6</text>
<line x1="24.30" y1="421.50" x2="27.60" y2="421.50" stroke="#444" stroke-width="1.0"/>
<text x="0" y="0" font-size="5.4" text-anchor="middle" stroke="#333" stroke-width="0.5" textLength="6.50" lengthAdjust="spacingAndGlyphs" fill="#333" transform="translate(20.10 421.70) rotate(-90) scale(1 1.38)">0.8</text>
<line x1="24.30" y1="393.50" x2="27.60" y2="393.50" stroke="#444" stroke-width="1.0"/>
<text x="0" y="0" font-size="5.4" text-anchor="middle" stroke="#333" stroke-width="0.5" textLength="6.50" lengthAdjust="spacingAndGlyphs" fill="#333" transform="translate(20.10 393.80) rotate(-90) scale(1 1.38)">1.0</text>
<line x1="36.00" y1="539.20" x2="36.00" y2="541.80" stroke="#555" stroke-width="0.9"/>
<text x="36.00" y="550.00" font-size="5.6" text-anchor="middle" stroke="#222" stroke-width="0.3" textLength="3.60" lengthAdjust="spacingAndGlyphs" fill="#222">0</text>
<line x1="70.60" y1="539.20" x2="70.60" y2="541.80" stroke="#555" stroke-width="0.9"/>
<text x="70.60" y="550.00" font-size="5.6" text-anchor="middle" stroke="#222" stroke-width="0.3" textLength="3.60" lengthAdjust="spacingAndGlyphs" fill="#222">5</text>
<line x1="105.20" y1="539.20" x2="105.20" y2="541.80" stroke="#555" stroke-width="0.9"/>
<text x="105.20" y="550.00" font-size="5.6" text-anchor="middle" stroke="#222" stroke-width="0.3" textLength="7.20" lengthAdjust="spacingAndGlyphs" fill="#222">10</text>
<line x1="139.80" y1="539.20" x2="139.80" y2="541.80" stroke="#555" stroke-width="0.9"/>
<text x="139.80" y="550.00" font-size="5.6" text-anchor="middle" stroke="#222" stroke-width="0.3" textLength="7.20" lengthAdjust="spacingAndGlyphs" fill="#222">15</text>
<line x1="174.40" y1="539.20" x2="174.40" y2="541.80" stroke="#555" stroke-width="0.9"/>
<text x="174.40" y="550.00" font-size="5.6" text-anchor="middle" stroke="#222" stroke-width="0.3" textLength="7.20" lengthAdjust="spacingAndGlyphs" fill="#222">20</text>
<line x1="209.00" y1="539.20" x2="209.00" y2="541.80" stroke="#555" stroke-width="0.9"/>
<text x="209.00" y="550.00" font-size="5.6" text-anchor="middle" stroke="#222" stroke-width="0.3" textLength="7.20" lengthAdjust="spacingAndGlyphs" fill="#222">25</text>
<line x1="243.60" y1="539.20" x2="243.60" y2="541.80" stroke="#555" stroke-width="0.9"/>
<text x="243.60" y="550.00" font-size="5.6" text-anchor="middle" stroke="#222" stroke-width="0.3" textLength="7.20" lengthAdjust="spacingAndGlyphs" fill="#222">30</text>
<text x="143.50" y="560.30" font-size="5.8" text-anchor="middle" stroke="#1a1a1a" stroke-width="0.18" textLength="70.00" lengthAdjust="spacingAndGlyphs" fill="#1a1a1a">days after transplantation</text>
<text x="4.90" y="463.50" font-size="5.6" text-anchor="middle" stroke="#1a1a1a" stroke-width="0.18" textLength="22.00" lengthAdjust="spacingAndGlyphs" fill="#1a1a1a" transform="rotate(-90 4.90 463.50)">probability</text>
<polyline points="36.0,533.0 105.2,533.0 105.2,526.3 112.2,526.3 112.2,481.9 119.2,481.9 119.2,454.8 126.0,454.8 126.0,439.6 133.0,439.6 133.0,425.5 139.8,425.5 139.8,415.6 147.0,415.6 147.0,412.5 153.6,412.5 153.6,408.5 160.6,408.5 160.6,406.7 167.5,406.7 167.5,403.3 174.4,403.3 174.4,397.5 181.3,397.5 181.3,395.5 188.2,395.5 188.2,394.6 251.0,394.6" fill="none" stroke="#000" stroke-width="2.4" stroke-linejoin="miter" stroke-linecap="round"/>
<polyline points="36.0,533.0 105.2,533.0 105.2,528.4 112.2,528.4 112.2,512.6 119.2,512.6 119.2,480.8 126.0,480.8 126.0,469.6 133.0,469.6 133.0,453.3 139.8,453.3 139.8,434.1 147.0,434.1 147.0,421.1 153.6,421.1 153.6,411.9 160.6,411.9 160.6,406.7 167.5,406.7 167.5,403.3 174.4,403.3 174.4,401.0 181.3,401.0 181.3,397.0 188.2,397.0 188.2,395.5 200.0,395.5 200.0,394.8 251.0,394.8" fill="none" stroke="#000" stroke-width="2.4" stroke-linejoin="miter" stroke-linecap="round"/>
<text x="43.50" y="405.20" font-size="5.8" text-anchor="start" stroke="#111" stroke-width="0.2" font-weight="bold" font-style="italic" textLength="23.70" lengthAdjust="spacingAndGlyphs">P = .004</text>
<text x="109.50" y="407.20" font-size="5.8" text-anchor="start" stroke="#111" stroke-width="0.2" font-weight="bold" textLength="39.20" lengthAdjust="spacingAndGlyphs">haploidetical</text>
<text x="156.00" y="432.80" font-size="5.8" text-anchor="start" stroke="#111" stroke-width="0.2" font-weight="bold" textLength="47.50" lengthAdjust="spacingAndGlyphs">identical sibling</text>
<rect x="301.60" y="389.50" width="211.00" height="152.50" fill="none" stroke="#555" stroke-width="1.3"/>
<line x1="298.30" y1="536.50" x2="301.60" y2="536.50" stroke="#444" stroke-width="1.0"/>
<text x="0" y="0" font-size="5.4" text-anchor="middle" stroke="#333" stroke-width="0.5" textLength="6.50" lengthAdjust="spacingAndGlyphs" fill="#333" transform="translate(295.10 536.50) rotate(-90) scale(1 1.38)">0.0</text>
<line x1="298.30" y1="508.50" x2="301.60" y2="508.50" stroke="#444" stroke-width="1.0"/>
<text x="0" y="0" font-size="5.4" text-anchor="middle" stroke="#333" stroke-width="0.5" textLength="6.50" lengthAdjust="spacingAndGlyphs" fill="#333" transform="translate(295.10 508.20) rotate(-90) scale(1 1.38)">0.2</text>
<line x1="298.30" y1="479.50" x2="301.60" y2="479.50" stroke="#444" stroke-width="1.0"/>
<text x="0" y="0" font-size="5.4" text-anchor="middle" stroke="#333" stroke-width="0.5" textLength="6.50" lengthAdjust="spacingAndGlyphs" fill="#333" transform="translate(295.10 479.90) rotate(-90) scale(1 1.38)">0.4</text>
<line x1="298.30" y1="451.50" x2="301.60" y2="451.50" stroke="#444" stroke-width="1.0"/>
<text x="0" y="0" font-size="5.4" text-anchor="middle" stroke="#333" stroke-width="0.5" textLength="6.50" lengthAdjust="spacingAndGlyphs" fill="#333" transform="translate(295.10 451.60) rotate(-90) scale(1 1.38)">0.6</text>
<line x1="298.30" y1="423.50" x2="301.60" y2="423.50" stroke="#444" stroke-width="1.0"/>
<text x="0" y="0" font-size="5.4" text-anchor="middle" stroke="#333" stroke-width="0.5" textLength="6.50" lengthAdjust="spacingAndGlyphs" fill="#333" transform="translate(295.10 423.30) rotate(-90) scale(1 1.38)">0.8</text>
<line x1="298.30" y1="395.50" x2="301.60" y2="395.50" stroke="#444" stroke-width="1.0"/>
<text x="0" y="0" font-size="5.4" text-anchor="middle" stroke="#333" stroke-width="0.5" textLength="6.50" lengthAdjust="spacingAndGlyphs" fill="#333" transform="translate(295.10 395.00) rotate(-90) scale(1 1.38)">1.0</text>
<line x1="309.80" y1="542.00" x2="309.80" y2="544.60" stroke="#555" stroke-width="0.9"/>
<text x="309.80" y="553.50" font-size="5.6" text-anchor="middle" stroke="#222" stroke-width="0.3" textLength="3.60" lengthAdjust="spacingAndGlyphs" fill="#222">0</text>
<line x1="348.80" y1="542.00" x2="348.80" y2="544.60" stroke="#555" stroke-width="0.9"/>
<text x="348.80" y="553.50" font-size="5.6" text-anchor="middle" stroke="#222" stroke-width="0.3" textLength="7.20" lengthAdjust="spacingAndGlyphs" fill="#222">20</text>
<line x1="387.80" y1="542.00" x2="387.80" y2="544.60" stroke="#555" stroke-width="0.9"/>
<text x="387.80" y="553.50" font-size="5.6" text-anchor="middle" stroke="#222" stroke-width="0.3" textLength="7.20" lengthAdjust="spacingAndGlyphs" fill="#222">40</text>
<line x1="426.80" y1="542.00" x2="426.80" y2="544.60" stroke="#555" stroke-width="0.9"/>
<text x="426.80" y="553.50" font-size="5.6" text-anchor="middle" stroke="#222" stroke-width="0.3" textLength="7.20" lengthAdjust="spacingAndGlyphs" fill="#222">60</text>
<line x1="465.80" y1="542.00" x2="465.80" y2="544.60" stroke="#555" stroke-width="0.9"/>
<text x="465.80" y="553.50" font-size="5.6" text-anchor="middle" stroke="#222" stroke-width="0.3" textLength="7.20" lengthAdjust="spacingAndGlyphs" fill="#222">80</text>
<line x1="504.80" y1="542.00" x2="504.80" y2="544.60" stroke="#555" stroke-width="0.9"/>
<text x="504.80" y="553.50" font-size="5.6" text-anchor="middle" stroke="#222" stroke-width="0.3" textLength="10.80" lengthAdjust="spacingAndGlyphs" fill="#222">100</text>
<text x="407.60" y="564.00" font-size="5.8" text-anchor="middle" stroke="#1a1a1a" stroke-width="0.18" textLength="62.50" lengthAdjust="spacingAndGlyphs" fill="#1a1a1a">days after transplantation</text>
<text x="281.50" y="466.00" font-size="5.6" text-anchor="middle" stroke="#1a1a1a" stroke-width="0.18" textLength="22.00" lengthAdjust="spacingAndGlyphs" fill="#1a1a1a" transform="rotate(-90 281.50 466.00)">probability</text>
<polyline points="309.8,536.5 320.5,536.5 322.5,535.8 324.0,534.5 325.3,532.5 325.3,525.8 327.3,525.8 327.3,516.2 329.4,516.2 329.4,502.6 331.1,502.6 331.1,481.0 332.9,481.0 332.9,454.9 335.1,454.9 335.1,437.5 337.1,437.5 337.1,424.4 339.1,424.4 339.1,417.0 340.0,414.2 341.5,411.2 344.6,408.8 349.2,405.8 355.4,403.5 363.1,401.2 370.8,399.6 378.5,398.6 386.2,398.2 447.3,398.1 447.3,397.2 505.1,397.2" fill="none" stroke="#000" stroke-width="2.4" stroke-linejoin="miter" stroke-linecap="round"/>
<polyline points="309.8,536.5 320.5,536.5 322.5,535.8 324.0,534.5 325.3,532.5 325.3,529.2 329.6,529.2 329.6,520.3 331.4,520.3 331.4,506.8 333.3,506.8 333.3,490.4 335.1,490.4 335.1,482.0 337.1,482.0 337.1,474.8 339.1,474.8 339.1,469.6 340.7,469.6 340.7,462.9 343.1,462.9 343.1,456.5 345.1,456.5 345.1,452.1 347.0,452.1 347.0,445.0 349.0,445.0 349.0,442.2 350.6,442.2 350.6,437.1 352.3,433.5 355.4,430.4 360.0,427.3 366.2,425.0 370.8,422.7 378.5,419.6 383.1,418.1 386.2,416.5 393.8,414.2 401.5,412.3 411.5,411.9 423.0,411.2 464.7,410.8 469.3,410.1 492.4,409.6 494.7,409.2 505.1,409.2" fill="none" stroke="#000" stroke-width="2.4" stroke-linejoin="miter" stroke-linecap="round"/>
<text x="306.00" y="396.60" font-size="5.8" text-anchor="start" stroke="#111" stroke-width="0.2" font-weight="bold" font-style="italic" textLength="21.70" lengthAdjust="spacingAndGlyphs">P &lt; .001</text>
<text x="363.50" y="409.50" font-size="5.8" text-anchor="start" stroke="#111" stroke-width="0.2" font-weight="bold" textLength="43.00" lengthAdjust="spacingAndGlyphs">identical sibling</text>
<text x="399.00" y="422.00" font-size="5.8" text-anchor="start" stroke="#111" stroke-width="0.2" font-weight="bold" textLength="41.00" lengthAdjust="spacingAndGlyphs">haploidentical</text>
<rect x="28.00" y="580.50" width="235.50" height="153.70" fill="none" stroke="#555" stroke-width="1.3"/>
<line x1="24.70" y1="728.50" x2="28.00" y2="728.50" stroke="#444" stroke-width="1.0"/>
<text x="0" y="0" font-size="5.4" text-anchor="middle" stroke="#333" stroke-width="0.5" textLength="6.50" lengthAdjust="spacingAndGlyphs" fill="#333" transform="translate(20.50 728.50) rotate(-90) scale(1 1.38)">0.0</text>
<line x1="24.70" y1="700.50" x2="28.00" y2="700.50" stroke="#444" stroke-width="1.0"/>
<text x="0" y="0" font-size="5.4" text-anchor="middle" stroke="#333" stroke-width="0.5" textLength="6.50" lengthAdjust="spacingAndGlyphs" fill="#333" transform="translate(20.50 700.00) rotate(-90) scale(1 1.38)">0.2</text>
<line x1="24.70" y1="671.50" x2="28.00" y2="671.50" stroke="#444" stroke-width="1.0"/>
<text x="0" y="0" font-size="5.4" text-anchor="middle" stroke="#333" stroke-width="0.5" textLength="6.50" lengthAdjust="spacingAndGlyphs" fill="#333" transform="translate(20.50 671.50) rotate(-90) scale(1 1.38)">0.4</text>
<line x1="24.70" y1="643.50" x2="28.00" y2="643.50" stroke="#444" stroke-width="1.0"/>
<text x="0" y="0" font-size="5.4" text-anchor="middle" stroke="#333" stroke-width="0.5" textLength="6.50" lengthAdjust="spacingAndGlyphs" fill="#333" transform="translate(20.50 643.00) rotate(-90) scale(1 1.38)">0.6</text>
<line x1="24.70" y1="614.50" x2="28.00" y2="614.50" stroke="#444" stroke-width="1.0"/>
<text x="0" y="0" font-size="5.4" text-anchor="middle" stroke="#333" stroke-width="0.5" textLength="6.50" lengthAdjust="spacingAndGlyphs" fill="#333" transform="translate(20.50 614.50) rotate(-90) scale(1 1.38)">0.8</text>
<line x1="24.70" y1="586.50" x2="28.00" y2="586.50" stroke="#444" stroke-width="1.0"/>
<text x="0" y="0" font-size="5.4" text-anchor="middle" stroke="#333" stroke-width="0.5" textLength="6.50" lengthAdjust="spacingAndGlyphs" fill="#333" transform="translate(20.50 586.00) rotate(-90) scale(1 1.38)">1.0</text>
<line x1="36.50" y1="734.20" x2="36.50" y2="736.80" stroke="#555" stroke-width="0.9"/>
<text x="36.50" y="744.50" font-size="5.6" text-anchor="middle" stroke="#222" stroke-width="0.3" textLength="3.60" lengthAdjust="spacingAndGlyphs" fill="#222">0</text>
<line x1="69.80" y1="734.20" x2="69.80" y2="736.80" stroke="#555" stroke-width="0.9"/>
<text x="69.80" y="744.50" font-size="5.6" text-anchor="middle" stroke="#222" stroke-width="0.3" textLength="7.20" lengthAdjust="spacingAndGlyphs" fill="#222">20</text>
<line x1="103.10" y1="734.20" x2="103.10" y2="736.80" stroke="#555" stroke-width="0.9"/>
<text x="103.10" y="744.50" font-size="5.6" text-anchor="middle" stroke="#222" stroke-width="0.3" textLength="7.20" lengthAdjust="spacingAndGlyphs" fill="#222">40</text>
<line x1="136.40" y1="734.20" x2="136.40" y2="736.80" stroke="#555" stroke-width="0.9"/>
<text x="136.40" y="744.50" font-size="5.6" text-anchor="middle" stroke="#222" stroke-width="0.3" textLength="7.20" lengthAdjust="spacingAndGlyphs" fill="#222">60</text>
<line x1="169.70" y1="734.20" x2="169.70" y2="736.80" stroke="#555" stroke-width="0.9"/>
<text x="169.70" y="744.50" font-size="5.6" text-anchor="middle" stroke="#222" stroke-width="0.3" textLength="7.20" lengthAdjust="spacingAndGlyphs" fill="#222">80</text>
<line x1="203.00" y1="734.20" x2="203.00" y2="736.80" stroke="#555" stroke-width="0.9"/>
<text x="203.00" y="744.50" font-size="5.6" text-anchor="middle" stroke="#222" stroke-width="0.3" textLength="10.80" lengthAdjust="spacingAndGlyphs" fill="#222">100</text>
<line x1="236.30" y1="734.20" x2="236.30" y2="736.80" stroke="#555" stroke-width="0.9"/>
<text x="236.30" y="744.50" font-size="5.6" text-anchor="middle" stroke="#222" stroke-width="0.3" textLength="10.80" lengthAdjust="spacingAndGlyphs" fill="#222">120</text>
<text x="145.20" y="755.00" font-size="5.8" text-anchor="middle" stroke="#1a1a1a" stroke-width="0.18" textLength="68.80" lengthAdjust="spacingAndGlyphs" fill="#1a1a1a">days after transplantation</text>
<text x="4.90" y="657.40" font-size="5.6" text-anchor="middle" stroke="#1a1a1a" stroke-width="0.18" textLength="22.00" lengthAdjust="spacingAndGlyphs" fill="#1a1a1a" transform="rotate(-90 4.90 657.40)">probability</text>
<polyline points="36.5,728.1 54.2,728.1 54.2,725.8 57.3,721.9 60.4,718.8 63.5,715.8 68.1,711.9 71.9,708.1 75.8,705.0 80.4,702.7 82.7,698.1 85.0,695.8 91.2,692.7 97.3,690.4 103.5,688.1 109.6,685.8 117.3,684.6 125.0,684.6 128.1,684.2 130.8,683.3 147.0,682.5 168.5,681.2 173.9,679.8 200.9,678.6 202.2,677.1 254.8,677.1" fill="none" stroke="#000" stroke-width="2.4" stroke-linejoin="miter" stroke-linecap="round"/>
<polyline points="36.5,728.1 54.2,728.1 54.2,727.3 60.4,724.2 68.1,721.9 75.8,720.4 83.5,718.8 91.2,715.8 98.8,713.5 106.5,711.9 118.8,711.9 122.0,710.5 125.4,709.8 173.9,709.8 176.0,709.0 203.6,709.0" fill="none" stroke="#000" stroke-width="2.4" stroke-linejoin="miter" stroke-linecap="round"/>
<text x="152.00" y="603.20" font-size="5.8" text-anchor="start" stroke="#111" stroke-width="0.2" font-weight="bold" font-style="italic" textLength="23.80" lengthAdjust="spacingAndGlyphs">P &lt; .001</text>
<text x="135.20" y="693.00" font-size="5.8" text-anchor="start" stroke="#111" stroke-width="0.2" font-weight="bold" textLength="41.50" lengthAdjust="spacingAndGlyphs">haploidentical</text>
<text x="117.70" y="725.20" font-size="5.8" text-anchor="start" stroke="#111" stroke-width="0.2" font-weight="bold" textLength="47.50" lengthAdjust="spacingAndGlyphs">identical sibling</text>
<rect x="301.70" y="591.80" width="211.50" height="144.20" fill="none" stroke="#555" stroke-width="1.3"/>
<line x1="298.40" y1="730.50" x2="301.70" y2="730.50" stroke="#444" stroke-width="1.0"/>
<text x="0" y="0" font-size="5.4" text-anchor="middle" stroke="#333" stroke-width="0.5" textLength="6.50" lengthAdjust="spacingAndGlyphs" fill="#333" transform="translate(295.20 730.40) rotate(-90) scale(1 1.38)">0.0</text>
<line x1="298.40" y1="703.50" x2="301.70" y2="703.50" stroke="#444" stroke-width="1.0"/>
<text x="0" y="0" font-size="5.4" text-anchor="middle" stroke="#333" stroke-width="0.5" textLength="6.50" lengthAdjust="spacingAndGlyphs" fill="#333" transform="translate(295.20 703.80) rotate(-90) scale(1 1.38)">0.2</text>
<line x1="298.40" y1="677.50" x2="301.70" y2="677.50" stroke="#444" stroke-width="1.0"/>
<text x="0" y="0" font-size="5.4" text-anchor="middle" stroke="#333" stroke-width="0.5" textLength="6.50" lengthAdjust="spacingAndGlyphs" fill="#333" transform="translate(295.20 677.20) rotate(-90) scale(1 1.38)">0.4</text>
<line x1="298.40" y1="650.50" x2="301.70" y2="650.50" stroke="#444" stroke-width="1.0"/>
<text x="0" y="0" font-size="5.4" text-anchor="middle" stroke="#333" stroke-width="0.5" textLength="6.50" lengthAdjust="spacingAndGlyphs" fill="#333" transform="translate(295.20 650.60) rotate(-90) scale(1 1.38)">0.6</text>
<line x1="298.40" y1="624.50" x2="301.70" y2="624.50" stroke="#444" stroke-width="1.0"/>
<text x="0" y="0" font-size="5.4" text-anchor="middle" stroke="#333" stroke-width="0.5" textLength="6.50" lengthAdjust="spacingAndGlyphs" fill="#333" transform="translate(295.20 624.00) rotate(-90) scale(1 1.38)">0.8</text>
<line x1="298.40" y1="597.50" x2="301.70" y2="597.50" stroke="#444" stroke-width="1.0"/>
<text x="0" y="0" font-size="5.4" text-anchor="middle" stroke="#333" stroke-width="0.5" textLength="6.50" lengthAdjust="spacingAndGlyphs" fill="#333" transform="translate(295.20 597.40) rotate(-90) scale(1 1.38)">1.0</text>
<line x1="309.80" y1="736.00" x2="309.80" y2="738.60" stroke="#555" stroke-width="0.9"/>
<text x="309.80" y="746.00" font-size="5.6" text-anchor="middle" stroke="#222" stroke-width="0.3" textLength="3.60" lengthAdjust="spacingAndGlyphs" fill="#222">0</text>
<line x1="368.40" y1="736.00" x2="368.40" y2="738.60" stroke="#555" stroke-width="0.9"/>
<text x="368.40" y="746.00" font-size="5.6" text-anchor="middle" stroke="#222" stroke-width="0.3" textLength="10.80" lengthAdjust="spacingAndGlyphs" fill="#222">500</text>
<line x1="427.00" y1="736.00" x2="427.00" y2="738.60" stroke="#555" stroke-width="0.9"/>
<text x="427.00" y="746.00" font-size="5.6" text-anchor="middle" stroke="#222" stroke-width="0.3" textLength="14.40" lengthAdjust="spacingAndGlyphs" fill="#222">1000</text>
<line x1="485.60" y1="736.00" x2="485.60" y2="738.60" stroke="#555" stroke-width="0.9"/>
<text x="485.60" y="746.00" font-size="5.6" text-anchor="middle" stroke="#222" stroke-width="0.3" textLength="14.40" lengthAdjust="spacingAndGlyphs" fill="#222">1500</text>
<text x="407.60" y="754.80" font-size="5.8" text-anchor="middle" stroke="#1a1a1a" stroke-width="0.18" textLength="62.50" lengthAdjust="spacingAndGlyphs" fill="#1a1a1a">days after transplantation</text>
<text x="281.70" y="663.90" font-size="5.6" text-anchor="middle" stroke="#1a1a1a" stroke-width="0.18" textLength="20.50" lengthAdjust="spacingAndGlyphs" fill="#1a1a1a" transform="rotate(-90 281.70 663.90)">probability</text>
<polyline points="309.7,730.5 315.8,730.5 319.8,728.3 321.2,726.9 321.8,721.5 323.2,716.1 324.5,710.8 326.5,705.4 328.6,700.7 329.9,695.3 331.9,691.9 333.9,686.5 335.3,684.5 340.0,682.5 341.3,679.1 344.0,677.8 350.8,675.8 353.5,673.7 354.8,672.8 362.9,672.4 375.0,672.2 505.5,672.2" fill="none" stroke="#000" stroke-width="2.4" stroke-linejoin="miter" stroke-linecap="round"/>
<polyline points="309.7,730.5 315.8,730.5 319.8,728.3 325.2,724.2 329.2,720.9 334.6,715.5 340.0,714.8 344.0,713.5 348.1,711.4 354.8,708.7 361.5,708.1 372.3,707.2 374.6,705.7 390.0,705.7 392.3,704.9 503.2,704.9" fill="none" stroke="#000" stroke-width="2.4" stroke-linejoin="miter" stroke-linecap="round"/>
<text x="409.00" y="610.50" font-size="5.8" text-anchor="start" stroke="#111" stroke-width="0.2" font-weight="bold" font-style="italic" textLength="22.50" lengthAdjust="spacingAndGlyphs">P &lt; .001</text>
<text x="385.00" y="683.50" font-size="5.8" text-anchor="start" stroke="#111" stroke-width="0.2" font-weight="bold" textLength="39.00" lengthAdjust="spacingAndGlyphs">haploidentical</text>
<text x="384.00" y="717.30" font-size="5.8" text-anchor="start" stroke="#111" stroke-width="0.2" font-weight="bold" textLength="43.50" lengthAdjust="spacingAndGlyphs">identical sibling</text>
</g></svg>
</body></html>
